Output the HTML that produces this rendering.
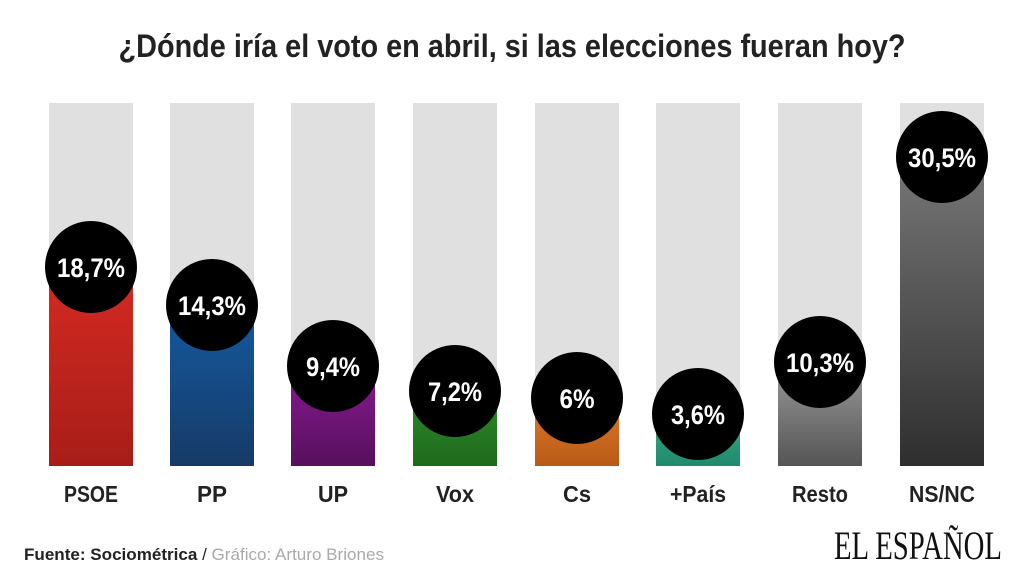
<!DOCTYPE html>
<html><head><meta charset="utf-8"><style>body{margin:0;background:#fff}svg{display:block}</style></head><body>
<svg width="1024" height="576" viewBox="0 0 1024 576" xmlns="http://www.w3.org/2000/svg" font-family="Liberation Sans, sans-serif">
<defs>
<linearGradient id="r" x1="0" y1="0" x2="0" y2="1"><stop offset="0" stop-color="#d42a22"/><stop offset="1" stop-color="#a81d18"/></linearGradient>
<linearGradient id="b" x1="0" y1="0" x2="0" y2="1"><stop offset="0" stop-color="#145aa0"/><stop offset="1" stop-color="#163a66"/></linearGradient>
<linearGradient id="p" x1="0" y1="0" x2="0" y2="1"><stop offset="0" stop-color="#8a1a92"/><stop offset="1" stop-color="#55105c"/></linearGradient>
<linearGradient id="g" x1="0" y1="0" x2="0" y2="1"><stop offset="0" stop-color="#2f8a2a"/><stop offset="1" stop-color="#1e6a1c"/></linearGradient>
<linearGradient id="o" x1="0" y1="0" x2="0" y2="1"><stop offset="0" stop-color="#e07a2a"/><stop offset="1" stop-color="#b85a16"/></linearGradient>
<linearGradient id="t" x1="0" y1="0" x2="0" y2="1"><stop offset="0" stop-color="#3aa88a"/><stop offset="1" stop-color="#1f8a6c"/></linearGradient>
<linearGradient id="k" x1="0" y1="0" x2="0" y2="1"><stop offset="0" stop-color="#9a9a9a"/><stop offset="1" stop-color="#555"/></linearGradient>
<linearGradient id="n" x1="0" y1="0" x2="0" y2="1"><stop offset="0" stop-color="#777"/><stop offset="1" stop-color="#2e2e2e"/></linearGradient>
</defs>
<text x="512" y="57" text-anchor="middle" font-size="32" font-weight="bold" fill="#222" textLength="787" lengthAdjust="spacingAndGlyphs">¿Dónde iría el voto en abril, si las elecciones fueran hoy?</text>
<g fill="#e0e0e0">
<rect x="49" y="103" width="84" height="363"/><rect x="170" y="103" width="84" height="363"/><rect x="291" y="103" width="84" height="363"/><rect x="413" y="103" width="84" height="363"/><rect x="535" y="103" width="84" height="363"/><rect x="656" y="103" width="84" height="363"/><rect x="778" y="103" width="84" height="363"/><rect x="900" y="103" width="84" height="363"/>
</g>
<rect x="49" y="267" width="84" height="199" fill="url(#r)"/>
<rect x="170" y="305" width="84" height="161" fill="url(#b)"/>
<rect x="291" y="366" width="84" height="100" fill="url(#p)"/>
<rect x="413" y="391" width="84" height="75" fill="url(#g)"/>
<rect x="535" y="398" width="84" height="68" fill="url(#o)"/>
<rect x="656" y="414" width="84" height="52" fill="url(#t)"/>
<rect x="778" y="362" width="84" height="104" fill="url(#k)"/>
<rect x="900" y="157" width="84" height="309" fill="url(#n)"/>
<g fill="#000">
<circle cx="91" cy="267" r="46"/><circle cx="212" cy="305" r="46"/><circle cx="333" cy="366" r="46"/><circle cx="455" cy="391" r="46"/><circle cx="577" cy="398" r="46"/><circle cx="698" cy="414" r="46"/><circle cx="820" cy="362" r="46"/><circle cx="942" cy="157" r="46"/>
</g>
<g fill="#fff" font-size="27" font-weight="bold" text-anchor="middle">
<text x="91" y="277" textLength="68" lengthAdjust="spacingAndGlyphs">18,7%</text>
<text x="212" y="315" textLength="68" lengthAdjust="spacingAndGlyphs">14,3%</text>
<text x="333" y="376" textLength="54" lengthAdjust="spacingAndGlyphs">9,4%</text>
<text x="455" y="401" textLength="54" lengthAdjust="spacingAndGlyphs">7,2%</text>
<text x="577" y="408" textLength="35" lengthAdjust="spacingAndGlyphs">6%</text>
<text x="698" y="424" textLength="54" lengthAdjust="spacingAndGlyphs">3,6%</text>
<text x="820" y="372" textLength="68" lengthAdjust="spacingAndGlyphs">10,3%</text>
<text x="942" y="167" textLength="68" lengthAdjust="spacingAndGlyphs">30,5%</text>
</g>
<g fill="#222" font-size="23" font-weight="bold" text-anchor="middle">
<text x="91" y="502" textLength="54" lengthAdjust="spacingAndGlyphs">PSOE</text>
<text x="212" y="502" textLength="30" lengthAdjust="spacingAndGlyphs">PP</text>
<text x="333" y="502" textLength="30" lengthAdjust="spacingAndGlyphs">UP</text>
<text x="455" y="502" textLength="38" lengthAdjust="spacingAndGlyphs">Vox</text>
<text x="577" y="502" textLength="28" lengthAdjust="spacingAndGlyphs">Cs</text>
<text x="698" y="502" textLength="56" lengthAdjust="spacingAndGlyphs">+País</text>
<text x="820" y="502" textLength="56" lengthAdjust="spacingAndGlyphs">Resto</text>
<text x="942" y="502" textLength="66" lengthAdjust="spacingAndGlyphs">NS/NC</text>
</g>
<text x="24" y="560" font-size="17" textLength="360" lengthAdjust="spacingAndGlyphs"><tspan font-weight="bold" fill="#222">Fuente: Sociométrica</tspan><tspan fill="#222"> / </tspan><tspan fill="#aaa">Gráfico: Arturo Briones</tspan></text>
<text x="1002" y="559" text-anchor="end" font-family="Liberation Serif, serif" font-size="40" fill="#111" textLength="168" lengthAdjust="spacingAndGlyphs">EL ESPAÑOL</text>
</svg>
</body></html>
